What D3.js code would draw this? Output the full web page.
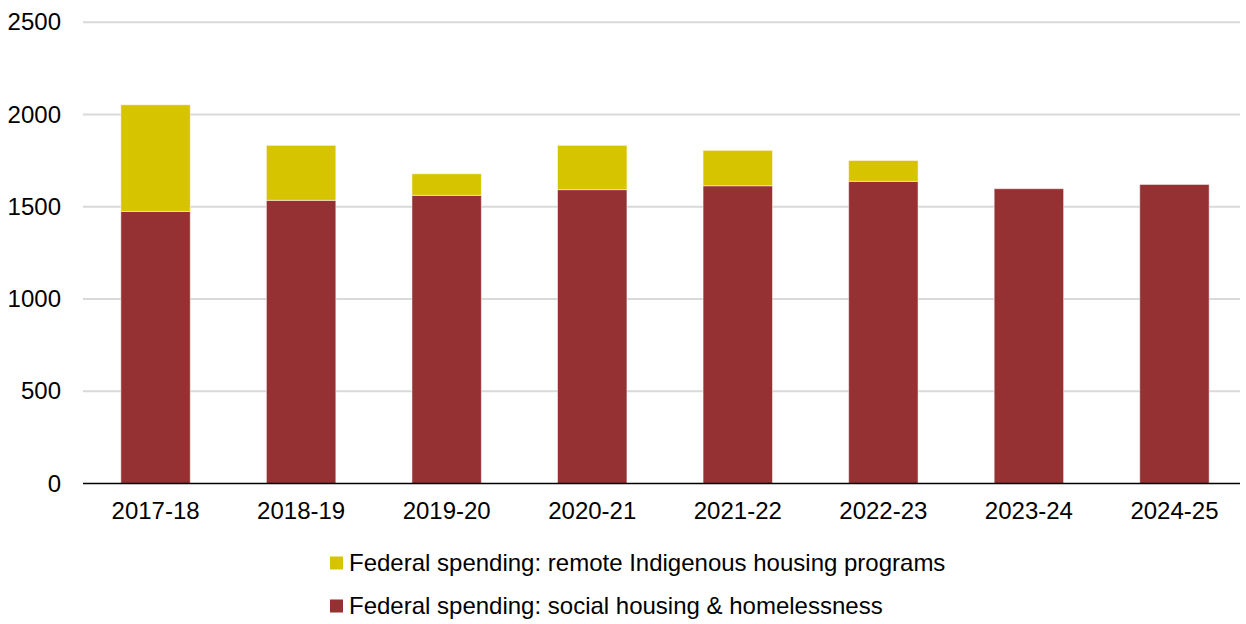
<!DOCTYPE html>
<html><head><meta charset="utf-8">
<script src="https://cdn.jsdelivr.net/npm/d3@7"></script>
<style>body{margin:0;background:#fff}svg{display:block;font-family:"Liberation Sans",Arial,sans-serif}</style>
</head><body><svg id="c" width="1246" height="624"></svg>
<script>
const categories = ["2017-18","2018-19","2019-20","2020-21","2021-22","2022-23","2023-24","2024-25"];
const socialHousing = [1475,1535,1562,1593,1614,1638,1598,1621];
const remoteIndigenous = [578,298,117,240,192,113,0,0];
const yTicks = [0,500,1000,1500,2000,2500];
const seriesNames = ["Federal spending: remote Indigenous housing programs","Federal spending: social housing & homelessness"];
const colors = {social:"#963133", remote:"#D7C400"};

const svg = d3.select("#c");
const x = d3.scaleBand().domain(categories).range([83,1247]).paddingInner(0.523).paddingOuter(0.26);
const y = d3.scaleLinear().domain([0,2500]).range([483.5,22.3]);

// gridlines
svg.append("g").selectAll("line").data(yTicks.filter(d=>d>0)).join("line")
  .attr("x1",83).attr("x2",1240).attr("y1",d=>y(d)).attr("y2",d=>y(d))
  .attr("stroke","#d9d9d9").attr("stroke-width",2);

const rows = categories.map((c,i)=>({c, s:socialHousing[i], r:remoteIndigenous[i]}));
const stack = d3.stack().keys(["s","r"])(rows);
const fill = {s:colors.social, r:colors.remote};
svg.append("g").selectAll("g").data(stack).join("g")
  .attr("fill",d=>fill[d.key])
  .selectAll("rect").data(d=>d.filter(p=>p[1]-p[0]>0)).join("rect")
  .attr("x",d=>x(d.data.c)).attr("width",x.bandwidth())
  .attr("y",d=>y(d[1])).attr("height",d=>y(d[0])-y(d[1]))
  .attr("stroke","rgba(255,255,255,0.5)").attr("stroke-width",1);

// x axis line
svg.append("line").attr("x1",83).attr("x2",1240).attr("y1",y(0)).attr("y2",y(0))
  .attr("stroke","#000").attr("stroke-width",1.5);

const FS = 24;
// y labels
const yAxis = d3.axisLeft(y).tickValues(yTicks).tickFormat(d3.format("d")).tickSize(0).tickPadding(0);
const yg = svg.append("g").attr("transform","translate(61,0)").call(yAxis);
yg.select(".domain").remove();
yg.selectAll("text").attr("font-size",FS).attr("fill","#000").attr("font-family","Liberation Sans, Arial, sans-serif");

// x labels
const xAxis = d3.axisBottom(x).tickSize(0).tickPadding(0);
const xg = svg.append("g").attr("transform","translate(0,502)").call(xAxis);
xg.select(".domain").remove();
xg.selectAll("text").attr("font-size",FS).attr("fill","#000").attr("font-family","Liberation Sans, Arial, sans-serif");

// legend
const leg = [{n:seriesNames[0],c:colors.remote,y:563},{n:seriesNames[1],c:colors.social,y:606}];
const lg = svg.append("g").selectAll("g").data(leg).join("g");
lg.append("rect").attr("x",330).attr("y",d=>d.y-6.5).attr("width",13).attr("height",13).attr("fill",d=>d.c);
lg.append("text").attr("x",349).attr("y",d=>d.y).attr("dy","0.35em").attr("font-size",FS).attr("fill","#000").text(d=>d.n);
</script></body></html>
